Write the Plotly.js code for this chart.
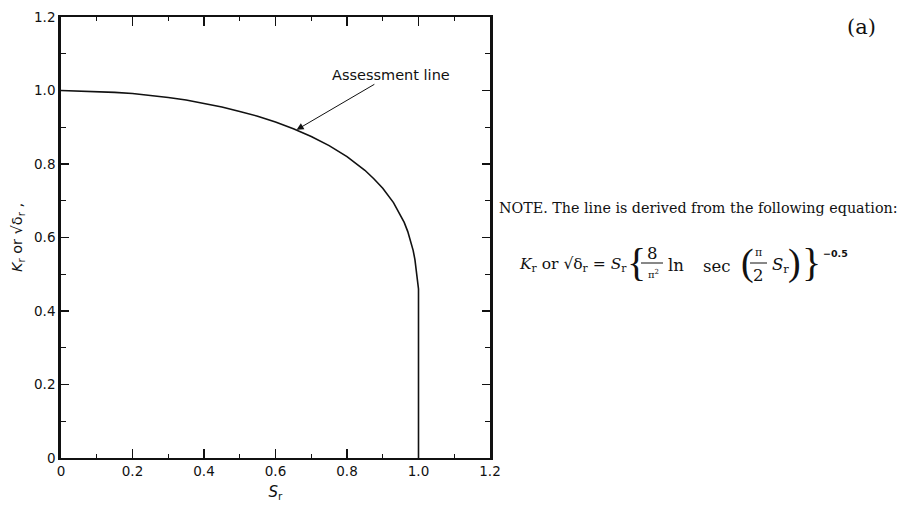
<!DOCTYPE html>
<html>
<head>
<meta charset="utf-8">
<script src="https://cdn.plot.ly/plotly-3.0.1.min.js"></script>
<style>html,body{margin:0;padding:0;background:#fff;}#chart{width:909px;height:507px;}</style>
</head>
<body>
<div id="chart"></div>
<script>
// Data (assessment line)
const srValues = [0, 0.05, 0.1, 0.15, 0.2, 0.25, 0.3, 0.35, 0.4, 0.45, 0.5, 0.55, 0.6, 0.65, 0.7, 0.75, 0.8, 0.85, 0.875, 0.9, 0.93, 0.95, 0.96, 0.97, 0.98, 0.985, 0.99, 0.995, 1.0, 1.0];
const krValues = [1.0, 0.999, 0.998, 0.995, 0.992, 0.987, 0.981, 0.974, 0.965, 0.955, 0.943, 0.930, 0.914, 0.896, 0.875, 0.850, 0.820, 0.783, 0.760, 0.734, 0.695, 0.661, 0.641, 0.616, 0.585, 0.565, 0.540, 0.502, 0.46, 0];

const xTickVals = [0, 0.2, 0.4, 0.6, 0.8, 1.0, 1.2];
const xTickText = ['0', '0.2', '0.4', '0.6', '0.8', '1.0', '1.2'];
const yTickVals = [0, 0.2, 0.4, 0.6, 0.8, 1.0, 1.2];
const yTickText = ['0', '0.2', '0.4', '0.6', '0.8', '1.0', '1.2'];

const W = 909, H = 507;
const M = {l: 61, r: 419, t: 17, b: 49};
const PW = W - M.l - M.r, PH = H - M.t - M.b;
const px = v => (v - M.l) / PW;
const py = v => (H - M.b - v) / PH;

const ink = '#111';
const serif = 'DejaVu Serif, Liberation Serif, serif';
const sans = 'DejaVu Sans, Liberation Sans, sans-serif';
const times = 'Liberation Serif, serif';

function txt(text, x, y, size, opts) {
  return Object.assign({
    text: text, xref: 'paper', yref: 'paper', x: px(x), y: py(y),
    xanchor: 'center', yanchor: 'middle', showarrow: false,
    font: {family: serif, size: size, color: ink}
  }, opts || {});
}

const annotations = [
  {
    text: 'Assessment line', xref: 'x', yref: 'y', x: 0.659, y: 0.893,
    showarrow: true, arrowhead: 2, arrowsize: 1.4, arrowwidth: 1, arrowcolor: ink,
    ax: 94, ay: -55, font: {family: sans, size: 14.5, color: ink}
  },
  txt('(a)', 861, 27, 21),
  txt('NOTE. The line is derived from the following equation:', 497, 208, 14.3, {xanchor: 'left'}),
  txt('<i>K</i><sub>r</sub> or √δ<sub>r</sub> = <i>S</i><sub>r</sub>', 517, 265, 15.5, {xanchor: 'left'}),
  txt('{', 636, 262, 38, {font: {family: times, size: 40, color: ink}}),
  txt('8', 652, 253, 16.5),
  txt('π<sup>2</sup>', 653, 274, 10),
  txt('ln', 676, 265, 16.5),
  txt('sec', 716, 266, 16.5),
  txt('(', 747, 262, 36, {font: {family: times, size: 38, color: ink}}),
  txt('π', 758, 252, 11),
  txt('2', 758, 275, 16.5),
  txt('<i>S</i><sub>r</sub>', 780, 265, 16.5),
  txt(')', 794, 262, 36, {font: {family: times, size: 38, color: ink}}),
  txt('}', 811, 262, 38, {font: {family: times, size: 40, color: ink}}),
  txt('−0.5', 835, 253, 9.5, {font: {family: sans, size: 9.5, color: ink, weight: 'bold'}})
];

const shapes = [
  {type: 'line', xref: 'paper', yref: 'paper', x0: px(641), x1: px(663), y0: py(263), y1: py(263), line: {color: ink, width: 1}},
  {type: 'line', xref: 'paper', yref: 'paper', x0: px(750), x1: px(767), y0: py(263), y1: py(263), line: {color: ink, width: 1}}
];

const trace = {
  x: srValues, y: krValues, type: 'scatter', mode: 'lines',
  line: {color: ink, width: 1.6}, hoverinfo: 'skip', showlegend: false
};

const layout = {
  width: W, height: H,
  margin: M,
  paper_bgcolor: '#fff', plot_bgcolor: '#fff',
  showlegend: false,
  font: {family: sans, color: ink},
  xaxis: {
    range: [0, 1.2], tickvals: xTickVals, ticktext: xTickText,
    ticks: 'inside', ticklen: 9, tickwidth: 1.3, tickcolor: ink,
    minor: {dtick: 0.1, tick0: 0, ticks: 'inside', ticklen: 4, tickwidth: 1.2, tickcolor: ink},
    showline: true, linecolor: ink, linewidth: 2, mirror: 'allticks',
    showgrid: false, zeroline: false,
    tickfont: {family: sans, size: 13.5, color: ink},
    title: {text: '<i>S</i><sub>r</sub>', font: {family: sans, size: 15, color: ink}, standoff: 8},
    fixedrange: true
  },
  yaxis: {
    range: [0, 1.2], tickvals: yTickVals, ticktext: yTickText,
    ticks: 'inside', ticklen: 8, tickwidth: 1.3, tickcolor: ink,
    minor: {dtick: 0.1, tick0: 0, ticks: 'inside', ticklen: 5, tickwidth: 1.2, tickcolor: ink},
    showline: true, linecolor: ink, linewidth: 2.8, mirror: 'allticks',
    showgrid: false, zeroline: false,
    tickfont: {family: sans, size: 13.5, color: ink},
    title: {text: '<i>K</i><sub>r</sub> or √δ<sub>r</sub> ,', font: {family: sans, size: 14.5, color: ink}, standoff: 8},
    fixedrange: true
  },
  annotations: annotations,
  shapes: shapes
};

Plotly.newPlot('chart', [trace], layout, {staticPlot: true, displayModeBar: false});
</script>
</body>
</html>
